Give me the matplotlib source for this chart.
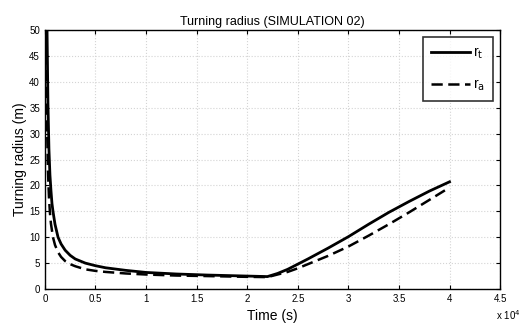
import numpy as np
import matplotlib
matplotlib.use("Agg")
import matplotlib.pyplot as plt
from matplotlib.ticker import FuncFormatter

plt.rcParams["font.family"] = ["Liberation Sans", "DejaVu Sans"]

# Time (s) and turning radius r_t (m)
time_t = [200, 300, 400, 500, 600, 700, 800, 1000, 1300, 1600, 2000, 2500, 3000,
          4000, 5000, 6000, 8000, 10000, 13000, 16000, 20000, 22000, 23000,
          24000, 25000, 26000, 28000, 30000, 32000, 34000, 36000, 38000, 40000]
r_t = [52, 36, 27, 22, 19, 16.5, 15, 12.5, 10, 8.7, 7.5, 6.5, 5.8,
       5.0, 4.5, 4.1, 3.6, 3.2, 2.9, 2.7, 2.5, 2.4, 3.0,
       3.8, 4.8, 5.8, 7.9, 10.1, 12.5, 14.8, 16.9, 18.9, 20.7]

# Time (s) and turning radius r_a (m)
time_a = [120, 200, 300, 400, 500, 600, 800, 1000, 1300, 1600, 2000, 2500, 3000,
          4000, 5000, 6000, 8000, 10000, 13000, 16000, 20000, 22000, 23000,
          24000, 25000, 26000, 28000, 30000, 32000, 34000, 36000, 38000, 40000]
r_a = [52, 33, 23, 17.8, 14.7, 12.6, 10.0, 8.5, 7.1, 6.2, 5.4, 4.8, 4.4,
       3.8, 3.5, 3.3, 3.0, 2.8, 2.6, 2.5, 2.35, 2.3, 2.8,
       3.3, 4.0, 4.8, 6.4, 8.2, 10.3, 12.5, 14.8, 17.2, 19.6]

fig = plt.figure(figsize=(5.22, 3.24), dpi=100)
ax = fig.add_axes([0.086, 0.108, 0.872, 0.799])

ax.plot(time_t, r_t, color="black", lw=2.0, label=r"r$_\mathrm{t}$")
ax.plot(time_a, r_a, color="black", lw=1.8, ls=(0, (4.5, 2.2)), label=r"r$_\mathrm{a}$")

ax.set_xlim(0, 45000)
ax.set_ylim(0, 50)
ax.set_xticks(np.arange(0, 45001, 5000))
ax.set_yticks(np.arange(0, 51, 5))
ax.xaxis.set_major_formatter(FuncFormatter(lambda v, p: f"{v / 1e4:g}"))
ax.tick_params(direction="in", labelsize=7, length=3, top=True, right=True)
ax.grid(True, linestyle=":", color="#d4d4d4", lw=0.8)
for s in ax.spines.values():
    s.set_linewidth(1.0)

ax.set_title("Turning radius (SIMULATION 02)", fontsize=9, pad=4)
ax.set_xlabel("Time (s)", fontsize=10, labelpad=4)
ax.set_ylabel("Turning radius (m)", fontsize=10, labelpad=2)
ax.text(0.99, -0.075, "x 10$^4$", transform=ax.transAxes, fontsize=7,
        ha="left", va="top")

leg = ax.legend(loc="upper right", fontsize=10, frameon=True, fancybox=False,
                edgecolor="black", handlelength=2.8, borderpad=0.6,
                labelspacing=1.2, handletextpad=0.2)
leg.get_frame().set_linewidth(1.2)

fig.savefig("out.png", dpi=100)
